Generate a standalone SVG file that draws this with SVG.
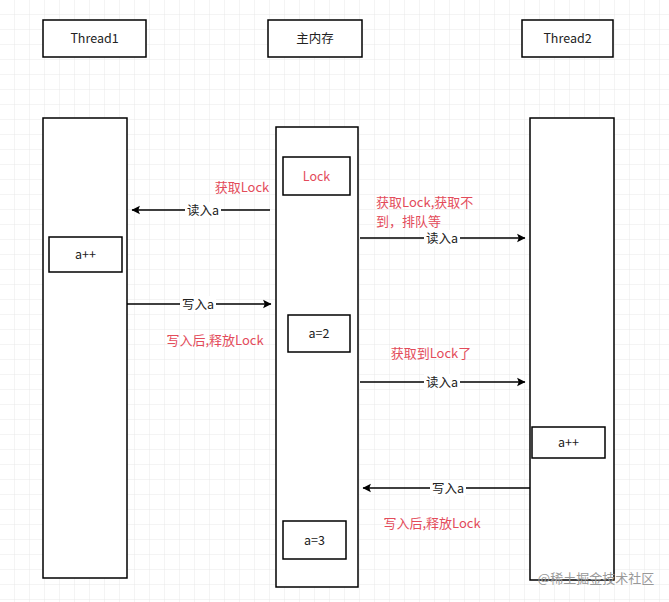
<svg xmlns="http://www.w3.org/2000/svg" width="669" height="602" viewBox="0 0 669 602">
<style>
.b{fill:#fff;stroke:#000;stroke-width:1.5}
.t{font-family:"Noto Sans CJK SC","Liberation Sans",sans-serif;font-size:12.5px;fill:#222;text-anchor:middle}
.r{font-family:"Noto Sans CJK SC","Liberation Sans",sans-serif;font-size:13px;fill:#e34b5a}
.l{stroke:#000;stroke-width:1.5;fill:none;marker-end:url(#ah)}
.lb{fill:#fff}
</style>
<defs>
<pattern id="g" width="15" height="15" patternUnits="userSpaceOnUse"><path d="M15 0V15M0 15H15" stroke="#e8e8e8" stroke-width="1" fill="none"/></pattern>
<marker id="ah" viewBox="0 0 10 10" refX="9" refY="5" markerWidth="6" markerHeight="6" markerUnits="userSpaceOnUse" orient="auto" style="overflow:visible"><path d="M0 0L10 5L0 10L2 5Z" fill="#000" transform="scale(1.4) translate(-3,-1.5)"/></marker>
</defs>
<rect width="669" height="602" fill="#fff"/>
<rect width="669" height="602" fill="url(#g)"/>
<g id="h1"><rect class="b" x="43" y="20" width="103" height="37"/><text class="t" x="94.5" y="43">Thread1</text></g>
<g id="h2"><rect class="b" x="268" y="20" width="94" height="37"/><text class="t" x="315" y="43">主内存</text></g>
<g id="h3"><rect class="b" x="522" y="20" width="91" height="37"/><text class="t" x="567.5" y="43">Thread2</text></g>
<g id="life1"><rect class="b" x="43" y="118" width="84" height="460"/></g>
<g id="life2"><rect class="b" x="276" y="127" width="82" height="460"/></g>
<g id="life3"><rect class="b" x="530" y="118" width="84" height="462"/></g>
<g id="lock"><rect class="b" x="283" y="157" width="67" height="38"/><text class="t" x="316.5" y="181" style="fill:#e34b5a">Lock</text></g>
<g id="app1"><rect class="b" x="49" y="237" width="73" height="35"/><text class="t" x="85.5" y="259">a++</text></g>
<g id="a2"><rect class="b" x="288" y="315" width="62" height="37"/><text class="t" x="319" y="338">a=2</text></g>
<g id="app2"><rect class="b" x="532" y="427" width="73" height="31"/><text class="t" x="568.5" y="447">a++</text></g>
<g id="a3"><rect class="b" x="283" y="521" width="63" height="38"/><text class="t" x="314.5" y="545">a=3</text></g>
<g id="connectors">
<path class="l" d="M270 210H132"/><rect class="lb" x="185" y="202" width="36" height="16"/><text class="t" x="203" y="215">读入a</text>
<path class="l" d="M127 304H271"/><rect class="lb" x="180" y="296" width="36" height="16"/><text class="t" x="198" y="309">写入a</text>
<path class="l" d="M360 238H525"/><rect class="lb" x="424" y="230" width="36" height="16"/><text class="t" x="442" y="243">读入a</text>
<path class="l" d="M360 382H525"/><rect class="lb" x="424" y="374" width="36" height="16"/><text class="t" x="442" y="387">读入a</text>
<path class="l" d="M530 488H363"/><rect class="lb" x="430" y="480" width="36" height="16"/><text class="t" x="448" y="493">写入a</text>
</g>
<text class="r" x="376" y="207">获取Lock,获取不</text>
<text class="r" x="376" y="226">到，排队等</text>
<text class="r" x="242" y="192" text-anchor="middle">获取Lock</text>
<text class="r" x="215" y="345" text-anchor="middle">写入后,释放Lock</text>
<text class="r" x="431" y="358" text-anchor="middle">获取到Lock了</text>
<text class="r" x="432" y="528" text-anchor="middle">写入后,释放Lock</text>
<text x="596" y="583" text-anchor="middle" style="font-family:'Noto Sans CJK SC',sans-serif;font-size:13px;fill:#999">@稀土掘金技术社区</text>
</svg>
